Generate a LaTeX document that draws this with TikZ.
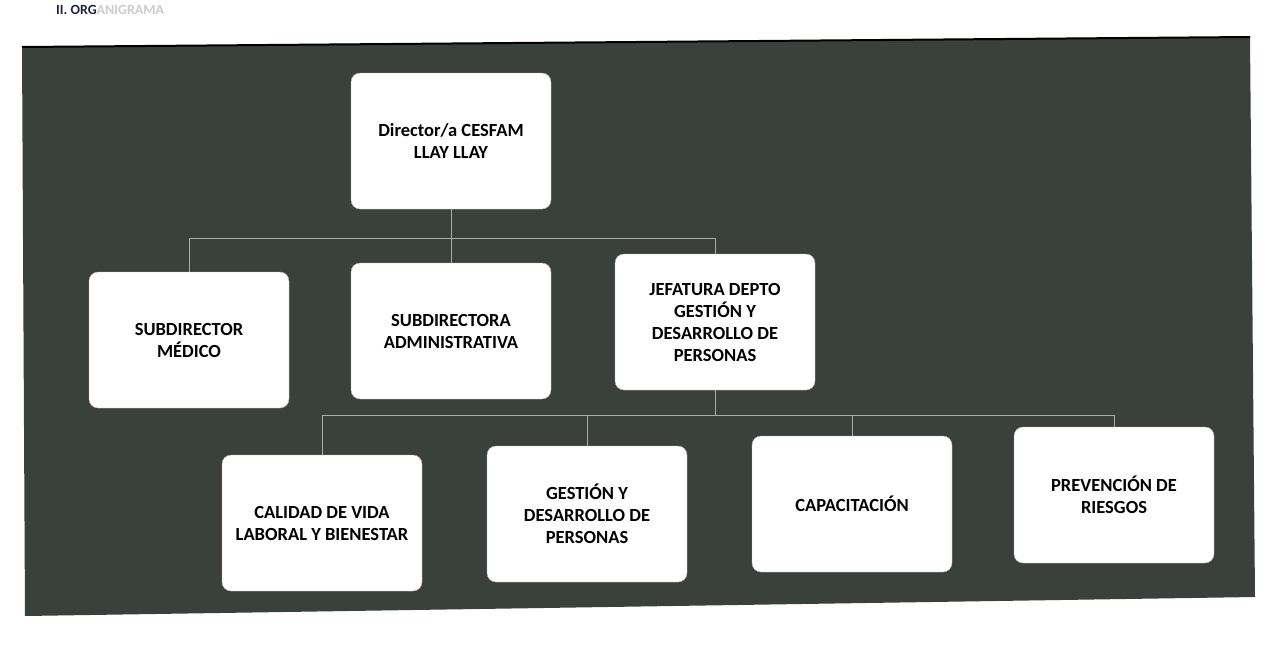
\documentclass[tikz,border=0pt]{standalone}
\usepackage{fontspec}
\setmainfont{Carlito}
\usetikzlibrary{positioning}
\definecolor{boarddark}{RGB}{58,64,60}
\definecolor{linegray}{RGB}{170,175,172}
\definecolor{titleink}{RGB}{30,35,60}
\tikzset{
  unitbox/.style={fill=white,draw=gray!60,rounded corners=9pt,
    minimum width=200pt,minimum height=136pt,align=center,
    font=\bfseries\fontsize{18.5}{22}\selectfont,inner sep=4pt},
  link/.style={draw=linegray,line width=0.8pt}
}
\begin{document}
\begin{tikzpicture}[x=1pt,y=-1pt]
  \useasboundingbox (0,0) rectangle (1269,646);
  \fill[white] (0,0) rectangle (1269,646);
  % page heading
  \node[anchor=west,font=\bfseries\fontsize{14}{14}\selectfont,text=titleink,
        inner sep=1pt] (heading) at (55,10) {II. ORG\textcolor{gray!40}{ANIGRAMA}};
  % dark board
  \fill[boarddark] (22,47) -- (1250,37) -- (1255,597) -- (25,616) -- cycle;
  \draw[black,line width=2pt] (22,47) -- (1250,37);

  % boxes
  \node[unitbox] (director) at (451,141) {Director/a CESFAM\\LLAY LLAY};
  \node[unitbox] (medico) at (189,340) {SUBDIRECTOR\\MÉDICO};
  \node[unitbox] (admin) at (451,331) {SUBDIRECTORA\\ADMINISTRATIVA};
  \node[unitbox] (jefatura) at (715,322) {JEFATURA DEPTO\\GESTIÓN Y\\DESARROLLO DE\\PERSONAS};
  \node[unitbox] (calidad) at (322,523) {CALIDAD DE VIDA\\LABORAL Y BIENESTAR};
  \node[unitbox] (gestion) at (587,514) {GESTIÓN Y\\DESARROLLO DE\\PERSONAS};
  \node[unitbox] (capacit) at (852,504) {CAPACITACIÓN};
  \node[unitbox] (riesgos) at (1114,495) {PREVENCIÓN DE\\RIESGOS};

  % first level
  \coordinate (busA) at (451,238);
  \draw[link] (director.south) -- (busA);
  \draw[link] (busA) -| (medico.north);
  \draw[link] (busA) -- (admin.north);
  \draw[link] (busA) -| (jefatura.north);

  % second level
  \coordinate (busB) at (715,415);
  \draw[link] (jefatura.south) -- (busB);
  \draw[link] (busB) -| (calidad.north);
  \draw[link] (busB) -| (gestion.north);
  \draw[link] (busB) -| (capacit.north);
  \draw[link] (busB) -| (riesgos.north);
\end{tikzpicture}
\end{document}
